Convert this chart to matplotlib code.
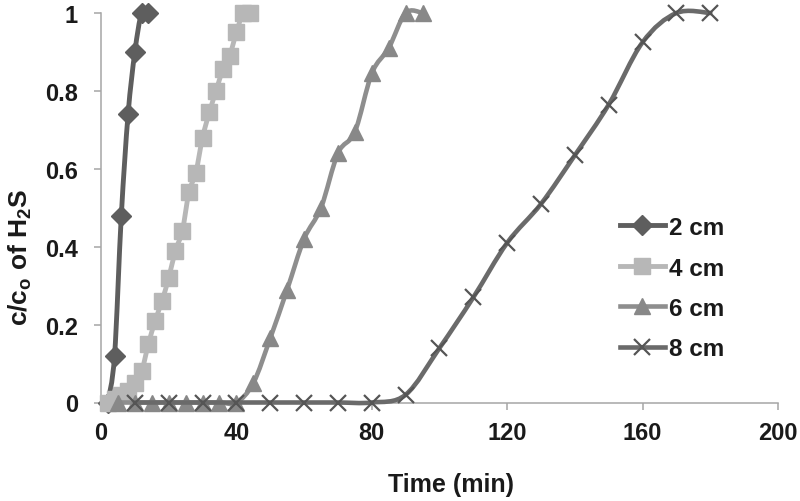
import matplotlib
matplotlib.use("Agg")
import matplotlib.pyplot as plt
from matplotlib.path import Path
from matplotlib.patches import PathPatch
from matplotlib.lines import Line2D
from matplotlib.ticker import FuncFormatter

# ---------------- data ----------------
labels = ["2 cm", "4 cm", "6 cm", "8 cm"]

x_2cm = [2, 4, 6, 8, 10, 12, 14]
y_2cm = [0.0, 0.12, 0.48, 0.74, 0.90, 1.0, 1.0]

x_4cm = [2, 4, 6, 8, 10, 12, 14, 16, 18, 20, 22, 24, 26, 28, 30, 32, 34, 36, 38, 40, 42, 44]
y_4cm = [0.0, 0.01, 0.02, 0.03, 0.05, 0.08, 0.15, 0.21, 0.26, 0.32, 0.39, 0.44,
         0.54, 0.59, 0.68, 0.745, 0.80, 0.855, 0.89, 0.95, 1.0, 1.0]

x_6cm = [5, 10, 15, 20, 25, 30, 35, 40, 45, 50, 55, 60, 65, 70, 75, 80, 85, 90, 95]
y_6cm = [0, 0, 0, 0, 0, 0, 0, 0, 0.05, 0.165, 0.29, 0.42, 0.50, 0.64, 0.695,
         0.845, 0.91, 1.0, 1.0]

x_8cm = [10, 20, 30, 40, 50, 60, 70, 80, 90, 100, 110, 120, 130, 140, 150, 160, 170, 180]
y_8cm = [0, 0, 0, 0, 0, 0, 0, 0, 0.02, 0.14, 0.27, 0.41, 0.51, 0.635, 0.765, 0.925, 1.0, 1.0]

x_ticks = [0, 40, 80, 120, 160, 200]
y_ticks = [0, 0.2, 0.4, 0.6, 0.8, 1.0]

# ---------------- styles ----------------
styles = [
    dict(color="#5e5e5e", mcolor="#5e5e5e", marker="D", ms=10.5, mew=1.0, lw=3.5),
    dict(color="#b7b7b7", mcolor="#b7b7b7", marker="s", ms=11.5, mew=1.0, lw=3.5),
    dict(color="#8e8e8e", mcolor="#888888", marker="^", ms=12, mew=1.0, lw=3.3),
    dict(color="#6a6a6a", mcolor="#555555", marker="x", ms=11, mew=1.6, lw=3.3),
]

FONT = ["Liberation Sans", "Arial", "DejaVu Sans"]
plt.rcParams["font.family"] = FONT
plt.rcParams["font.weight"] = "bold"
plt.rcParams["mathtext.fontset"] = "custom"
plt.rcParams["mathtext.rm"] = "Liberation Sans:bold"
plt.rcParams["mathtext.it"] = "Liberation Sans:bold"
plt.rcParams["mathtext.bf"] = "Liberation Sans:bold"


def smooth_path(xs, ys):
    """Excel-like smoothed line: cubic Bezier (Catmull-Rom control points)."""
    pts = list(zip(xs, ys))
    n = len(pts)
    verts = [pts[0]]
    codes = [Path.MOVETO]
    for i in range(n - 1):
        p0 = pts[i - 1] if i > 0 else pts[i]
        p1 = pts[i]
        p2 = pts[i + 1]
        p3 = pts[i + 2] if i + 2 < n else pts[i + 1]
        c1 = (p1[0] + (p2[0] - p0[0]) / 6.0, p1[1] + (p2[1] - p0[1]) / 6.0)
        c2 = (p2[0] - (p3[0] - p1[0]) / 6.0, p2[1] - (p3[1] - p1[1]) / 6.0)
        verts += [c1, c2, p2]
        codes += [Path.CURVE4] * 3
    return Path(verts, codes)


fig = plt.figure(figsize=(8.0, 5.02), dpi=100)
L, R, T, B = 101, 778, 14, 403.5
ax = fig.add_axes([L / 800, (502 - B) / 502, (R - L) / 800, (B - T) / 502])

series = [(x_2cm, y_2cm), (x_4cm, y_4cm), (x_6cm, y_6cm), (x_8cm, y_8cm)]
handles = []
for k, ((xs, ys), st) in enumerate(zip(series, styles)):
    patch = PathPatch(smooth_path(xs, ys), facecolor="none", edgecolor=st["color"],
                      lw=st["lw"], capstyle="round", joinstyle="round",
                      zorder=2 + 2 * k, clip_on=False)
    ax.add_patch(patch)
    ax.plot(xs, ys, linestyle="none", marker=st["marker"], ms=st["ms"],
            mfc=st["mcolor"], mec=st["mcolor"], mew=st["mew"],
            zorder=3 + 2 * k, clip_on=False)
    handles.append(Line2D([], [], color=st["color"], lw=st["lw"], marker=st["marker"],
                          ms=st["ms"], mfc=st["mcolor"], mec=st["mcolor"], mew=st["mew"]))

ax.set_xlim(0, 200)
ax.set_ylim(0, 1)
ax.set_xticks(x_ticks)
ax.set_yticks(y_ticks)
ax.yaxis.set_major_formatter(FuncFormatter(lambda v, p: "0" if v == 0 else ("1" if v == 1 else f"{v:.1f}")))

for s in ["top", "right"]:
    ax.spines[s].set_visible(False)
for s in ["left", "bottom"]:
    ax.spines[s].set_color("#a6a6a6")
    ax.spines[s].set_linewidth(1.1)

ax.tick_params(axis="both", direction="out", length=5, width=1.1, color="#a6a6a6",
               labelsize=17, labelcolor="#1a1a1a")
ax.tick_params(axis="y", pad=11.5)
ax.tick_params(axis="x", pad=8.5)
for lab in ax.get_xticklabels() + ax.get_yticklabels():
    lab.set_fontweight("bold")

fig.text(451 / 800, 1 - 485 / 502, "Time (min)", ha="center", va="center",
         fontsize=18, fontweight="bold", color="#1a1a1a")
fig.text(20 / 800, 1 - 257 / 502, r"c/c$_\mathregular{o}$ of H$_\mathregular{2}$S",
         ha="center", va="center", rotation=90, fontsize=19, fontweight="bold",
         color="#1a1a1a")

leg = fig.legend(handles, labels, loc="upper left",
                 bbox_to_anchor=(620 / 800, 1 - 217 / 502), frameon=False,
                 borderpad=0, borderaxespad=0, handlelength=1.85, handletextpad=0.15,
                 labelspacing=0.72, prop={"size": 17.5, "weight": "bold"})
for t in leg.get_texts():
    t.set_color("#1a1a1a")

fig.savefig("out.png", dpi=100, facecolor="white")
